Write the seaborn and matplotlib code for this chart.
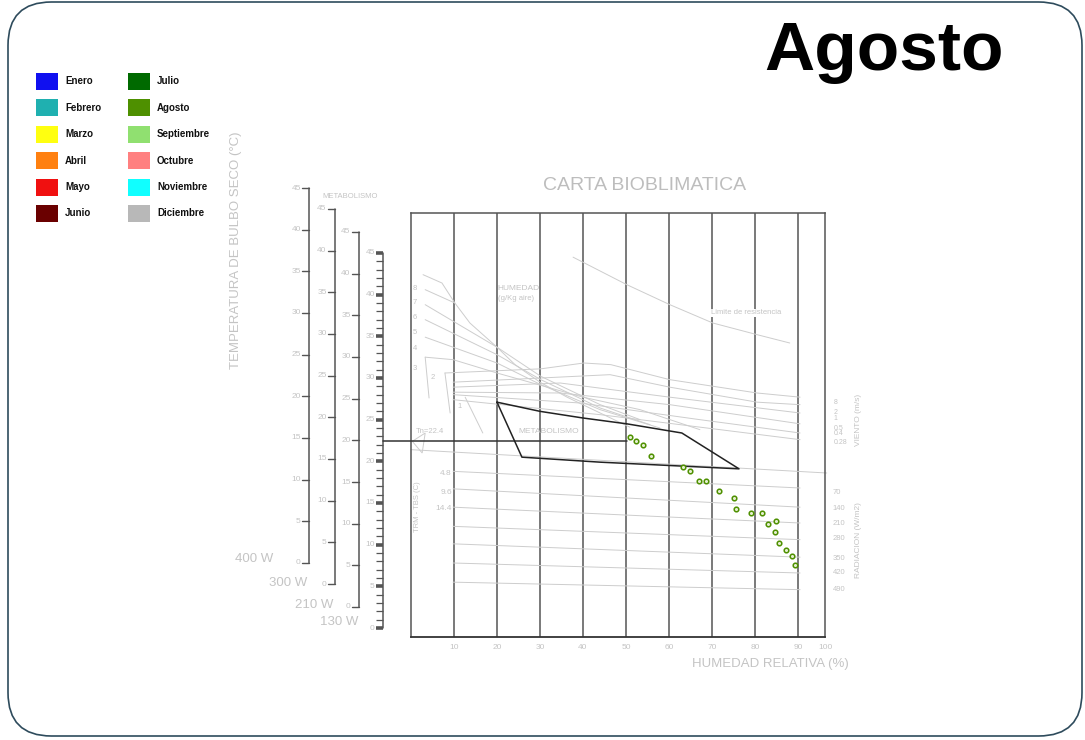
import matplotlib
matplotlib.use("Agg")
import matplotlib.pyplot as plt
from matplotlib.patches import FancyBboxPatch, Rectangle, Polygon
import seaborn as sns

sns.set_theme(style="white")
plt.rcParams["font.family"] = ["Liberation Sans", "DejaVu Sans"]

# ---------------------------------------------------------------- data
month_names = ["Enero", "Febrero", "Marzo", "Abril", "Mayo", "Junio",
               "Julio", "Agosto", "Septiembre", "Octubre", "Noviembre", "Diciembre"]
month_colors = ["#1010f0", "#1fb0b0", "#ffff10", "#ff8010", "#f01010", "#6a0000",
                "#006a00", "#4e9000", "#90e070", "#ff8080", "#10ffff", "#b8b8b8"]
current_month = "Agosto"

# hourly conditions for the month: relative humidity (%) and dry-bulb temperature (°C)
rh_hours = [51.0, 52.3, 54.0, 55.8, 63.3, 64.9, 66.9, 68.6, 71.6, 75.2,
            75.6, 79.1, 81.6, 84.8, 83.1, 84.6, 85.6, 87.3, 88.6, 89.3]
t_hours = [22.9, 22.5, 22.0, 20.6, 19.3, 18.8, 17.6, 17.6, 16.4, 15.6,
           14.3, 13.8, 13.8, 12.8, 12.5, 11.5, 10.2, 9.4, 8.6, 7.6]

# comfort zone outline (RH %, °C)
comfort_rh = [20.0, 30.0, 40.0, 50.2, 63.0, 76.3, 44.0, 25.8, 20.0]
comfort_t = [27.1, 26.0, 25.2, 24.5, 23.4, 19.1, 19.9, 20.5, 27.1]

tn_value = 22.4
rh_ticks = [10, 20, 30, 40, 50, 60, 70, 80, 90]
rh_edge = 96.3            # position of the closing "100" line
rh_tick_labels = ["10", "20", "30", "40", "50", "60", "70", "80", "90", "100"]

# humidity (g/kg) curves
hum_curves = [
    ([2.8, 7.2, 10.2, 13.7, 20.0, 24.2, 30.0, 36.3, 44.0, 50.9],
     [42.4, 41.4, 39.0, 36.6, 33.7, 31.6, 29.5, 27.7, 25.8, 24.1]),
    ([3.3, 10.2], [40.6, 39.0]),
    ([3.3, 20.0, 30.2, 44.0, 53.3], [38.8, 33.7, 30.2, 26.8, 25.0]),
    ([3.3, 20.0, 30.2, 44.0, 55.6], [37.0, 32.8, 29.8, 26.4, 24.4]),
    ([3.3, 20.0, 30.2, 44.0, 57.9], [34.9, 31.8, 29.2, 26.2, 24.0]),
    ([3.3, 9.8, 20.0, 40.0, 53.3, 67.2], [32.5, 32.2, 30.6, 27.7, 26.2, 23.8]),
    ([3.3, 4.2], [32.5, 27.6]),
    ([7.9, 9.1], [30.6, 25.8]),
    ([12.6, 16.7], [27.7, 23.4]),
]
hum_labels = ["8", "7", "6", "5", "4", "3", "2", "1"]
hum_label_rh = [0.9, 0.9, 0.9, 0.9, 0.9, 0.9, 5.1, 11.2]
hum_label_t = [40.8, 39.1, 37.2, 35.4, 33.5, 31.1, 30.1, 26.6]

# wind (m/s) curves
wind_curves = [
    ([7.9, 30.2, 40.2, 46.5, 60.2, 80.5, 90.5], [30.6, 31.1, 31.8, 31.6, 29.8, 28.2, 27.7]),
    ([9.8, 30.2, 46.3, 60.2, 80.5, 90.5], [29.5, 30.0, 30.4, 28.9, 27.1, 26.8]),
    ([9.8, 34.7, 60.2, 90.5], [28.9, 29.4, 27.7, 25.8]),
    ([9.8, 34.7, 60.2, 90.5], [28.3, 28.2, 26.8, 24.5]),
    ([9.8, 39.3, 67.2, 90.5], [28.0, 27.0, 25.0, 23.4]),
    ([9.8, 44.0, 90.5], [27.4, 25.6, 22.6]),
]
wind_labels = ["8", "2", "1", "0.5", "0.4", "0.28"]
wind_label_t = [27.1, 25.9, 25.1, 24.0, 23.3, 22.3]

base_line_rh = [0.0, 96.7]
base_line_t = [21.4, 18.6]

# radiation (W/m2) lines
rad_start_t = [18.8, 16.7, 14.5, 12.2, 10.1, 7.8, 5.5]
rad_end_t = [16.8, 14.5, 12.6, 10.6, 8.5, 6.6, 4.6]
rad_labels = ["70", "140", "210", "280", "350", "420", "490"]
rad_label_t = [16.3, 14.4, 12.5, 10.8, 8.4, 6.6, 4.6]
evap_labels = ["4.8", "9.6", "14.4"]
evap_label_t = [18.5, 16.3, 14.3]

limit_rh = [37.7, 50.2, 60.2, 70.2, 80.5, 88.1]
limit_t = [44.5, 41.2, 38.8, 36.6, 35.2, 34.2]

# metabolism scales (W) with their temperature offsets
scale_names = ["400 W", "300 W", "210 W", "130 W"]
scale_offsets = [7.8, 5.28, 2.52, 0.0]
scale_rh = [-23.7, -17.7, -12.1, -6.5]
scale_name_rh = [-32.1, -24.2, -18.1, -12.3]
scale_name_t = [8.3, 5.4, 2.8, 0.7]

# ---------------------------------------------------------------- figure
W, H = 1085, 740
fig = plt.figure(figsize=(W / 100, H / 100), dpi=100)
fig.patch.set_facecolor("white")

frame = FancyBboxPatch((8 / W, 4 / H), 1074 / W, 734 / H,
                       boxstyle="round,pad=0,rounding_size=0.04",
                       transform=fig.transFigure, fill=False,
                       edgecolor="#2e4b5c", linewidth=1.2, mutation_aspect=W / H)
fig.patches.append(frame)

fig.text(764 / W, 1 - 52 / H, current_month, fontsize=50, fontweight="bold",
         ha="left", va="center", color="black")

# legend of months
for i, (name, col) in enumerate(zip(month_names, month_colors)):
    c, r = divmod(i, 6)
    x0 = [36, 128][c]
    yc = 81.5 + r * 26.4
    fig.patches.append(Rectangle((x0 / W, 1 - (yc + 8.5) / H), 22 / W, 17 / H,
                                 transform=fig.transFigure, facecolor=col,
                                 edgecolor="none"))
    fig.text((x0 + 29) / W, 1 - yc / H, name, fontsize=7, fontweight="bold",
             ha="left", va="center", color="#111111")

grey_txt = "#c4c4c4"
line_grey = "#cdcdcd"

fig.text(236 / W, 1 - 250 / H, "TEMPERATURA DE BULBO SECO (°C)", rotation=90,
         fontsize=9.5, color=grey_txt, ha="center", va="center")
fig.text(645 / W, 1 - 185 / H, "CARTA BIOBLIMATICA", fontsize=14, color="#bdbdbd",
         ha="center", va="center")
fig.text(770 / W, 1 - 664 / H, "HUMEDAD RELATIVA (%)", fontsize=9.5, color=grey_txt,
         ha="center", va="center")

ax = fig.add_axes([411 / W, 1 - 637 / H, (825 - 411) / W, (637 - 213) / H])
ax.set_xlim(0, rh_edge)
ax.set_ylim(-1.08, 49.8)
ax.set_facecolor("none")
for side in ["left", "right", "top"]:
    ax.spines[side].set_color("#555555")
    ax.spines[side].set_linewidth(1.1)
ax.spines["bottom"].set_color("#333333")
ax.spines["bottom"].set_linewidth(1.3)
ax.set_yticks([])
ax.set_xticks(rh_ticks + [rh_edge])
ax.set_xticklabels(rh_tick_labels)
ax.tick_params(axis="x", length=0, pad=5, labelsize=6, labelcolor=grey_txt)
for v in rh_ticks:
    ax.axvline(v, color="#555555", lw=1.1, zorder=1)

# background reference curves
for xs, ys in hum_curves:
    ax.plot(xs, ys, color=line_grey, lw=0.7, zorder=1)
for lab, x, y in zip(hum_labels, hum_label_rh, hum_label_t):
    ax.text(x, y, lab, fontsize=5.5, color=grey_txt, ha="center", va="center")
ax.text(20.2, 40.8, "HUMEDAD", fontsize=6, color=grey_txt, va="center")
ax.text(20.2, 39.5, "(g/Kg aire)", fontsize=5.5, color=grey_txt, va="center")

for xs, ys in wind_curves:
    ax.plot(xs, ys, color=line_grey, lw=0.7, zorder=1)
for lab, y in zip(wind_labels, wind_label_t):
    ax.text(98.3, y, lab, fontsize=5, color=grey_txt, va="center", clip_on=False)
ax.text(104.2, 25.0, "VIENTO (m/s)", rotation=90, fontsize=6, color=grey_txt,
        ha="center", va="center", clip_on=False)

ax.plot(base_line_rh, base_line_t, color=line_grey, lw=0.7, zorder=1, clip_on=False)

for y0, y1 in zip(rad_start_t, rad_end_t):
    ax.plot([9.8, 90.5], [y0, y1], color=line_grey, lw=0.7, zorder=1)
for lab, y in zip(rad_labels, rad_label_t):
    ax.text(98.1, y, lab, fontsize=5.5, color=grey_txt, va="center", clip_on=False)
ax.text(104.2, 10.5, "RADIACION (W/m2)", rotation=90, fontsize=6, color=grey_txt,
        ha="center", va="center", clip_on=False)
for lab, y in zip(evap_labels, evap_label_t):
    ax.text(9.5, y, lab, fontsize=6, color=grey_txt, ha="right", va="center")
ax.text(1.6, 14.5, "TRM - TBS (C)", rotation=90, fontsize=5.5, color=grey_txt,
        ha="center", va="center")

ax.plot(limit_rh, limit_t, color=line_grey, lw=0.7, zorder=1)
ax.text(77.9, 37.8, "Limite de resistencia", fontsize=5.5, color=grey_txt,
        ha="center", va="center",
        bbox=dict(facecolor="white", edgecolor="none", pad=0.5))

ax.text(24.9, 23.6, "METABOLISMO", fontsize=6, color=grey_txt, va="center")
ax.text(1.2, 23.6, "Tn=22.4", fontsize=5.5, color=grey_txt, va="center")
ax.add_patch(Polygon([[0.3, tn_value], [3.3, 23.4], [2.6, 21.0]], closed=True,
                     fill=False, edgecolor=line_grey, lw=0.7))

# metabolism scales to the left of the chart
tick_len = 1.63
for name, off, xs, nx, ny in zip(scale_names, scale_offsets, scale_rh,
                                 scale_name_rh, scale_name_t):
    ax.plot([xs, xs], [off, off + 45], color="#555555", lw=1.1, clip_on=False)
    last = name == scale_names[-1]
    if last:
        for k in range(0, 46):
            ax.plot([xs - tick_len, xs], [off + k, off + k], color="#555555",
                    lw=2.6 if k % 5 == 0 else 0.9, clip_on=False,
                    solid_capstyle="butt")
    for k in range(0, 46, 5):
        if not last:
            ax.plot([xs - tick_len, xs], [off + k, off + k], color="#555555",
                    lw=1.0, clip_on=False)
        ax.text(xs - tick_len - 0.3, off + k, str(k), fontsize=6, color=grey_txt,
                ha="right", va="center", clip_on=False)
    ax.text(nx, ny, name, fontsize=9.5, color=grey_txt, ha="right", va="center",
            clip_on=False)
ax.text(-20.5, 51.8, "METABOLISMO", fontsize=5.5, color=grey_txt, va="center",
        clip_on=False)

# neutral temperature line and comfort zone
ax.plot([scale_rh[-1], 50.2], [tn_value, tn_value], color="#333333", lw=1.1,
        clip_on=False, zorder=3)
ax.plot(comfort_rh, comfort_t, color="#222222", lw=1.1, zorder=3)

# hourly points of the month
sns.scatterplot(x=rh_hours, y=t_hours, ax=ax, marker="o", s=11,
                color="#e6f0d2", edgecolor=month_colors[month_names.index(current_month)],
                linewidth=1.1, zorder=4, legend=False)

fig.savefig("out.png", dpi=100, facecolor="white")
